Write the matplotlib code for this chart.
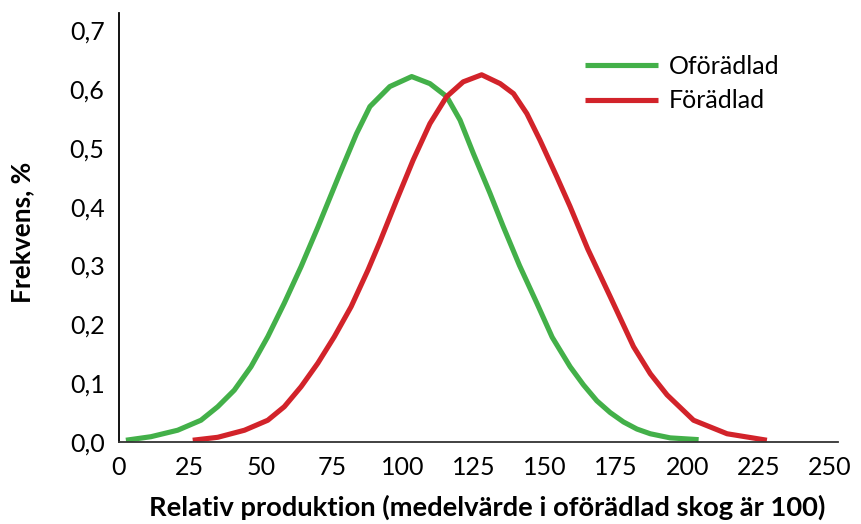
import numpy as np
import matplotlib.pyplot as plt

x_ofor = [2.6, 11.4, 20.8, 29.0, 34.9, 40.7, 46.6, 52.5, 58.3, 64.2, 70.1, 77.8,
          83.7, 88.4, 95.4, 103.1, 109.5, 115.4, 120.1, 124.8, 130.6, 135.3,
          141.0, 147.1, 152.5, 158.8, 163.5, 168.2, 172.9, 177.6, 182.3, 187.0,
          194.0, 204.0]
y_ofor = [0.003, 0.009, 0.020, 0.037, 0.060, 0.088, 0.128, 0.179, 0.236, 0.298,
          0.365, 0.456, 0.524, 0.570, 0.604, 0.621, 0.609, 0.587, 0.547, 0.490,
          0.423, 0.366, 0.300, 0.236, 0.178, 0.128, 0.097, 0.070, 0.050, 0.034,
          0.022, 0.014, 0.007, 0.004]

x_for = [26.1, 34.9, 44.3, 52.5, 58.3, 64.2, 70.1, 75.9, 81.8, 87.7, 91.9, 97.8,
         103.6, 109.5, 115.4, 121.2, 127.7, 134.2, 138.9, 143.6, 148.2, 154.1,
         158.8, 165.0, 172.9, 181.1, 187.0, 192.9, 202.2, 214.0, 228.0]
y_for = [0.003, 0.008, 0.020, 0.037, 0.060, 0.094, 0.134, 0.179, 0.230, 0.292,
         0.340, 0.411, 0.479, 0.541, 0.587, 0.612, 0.624, 0.609, 0.592, 0.558,
         0.513, 0.451, 0.400, 0.328, 0.247, 0.162, 0.116, 0.080, 0.037, 0.014,
         0.003]

xticks = [0, 25, 50, 75, 100, 125, 150, 175, 200, 225, 250]
yticks = [0.0, 0.1, 0.2, 0.3, 0.4, 0.5, 0.6, 0.7]

plt.rcParams['font.family'] = ['Lato', 'DejaVu Sans']

fig = plt.figure(figsize=(8.61, 5.24), dpi=100)
ax = fig.add_axes([118.5 / 861, 82 / 524, 719.5 / 861, 429 / 524])

ax.plot(x_ofor, y_ofor, color='#43b049', lw=3.7, label='Oförädlad',
        solid_capstyle='butt', solid_joinstyle='round')
ax.plot(x_for, y_for, color='#d2232a', lw=3.7, label='Förädlad',
        solid_capstyle='butt', solid_joinstyle='round')

ax.set_xlim(0, 253)
ax.set_ylim(0, 0.729)
ax.set_xticks(xticks)
ax.set_xticklabels([str(t) for t in xticks])
ax.set_yticks(yticks)
ax.set_yticklabels([('%.1f' % t).replace('.', ',') for t in yticks])
ax.tick_params(axis='x', length=0, pad=10, labelsize=18)
ax.tick_params(axis='y', length=0, pad=10, labelsize=18)

for s in ['top', 'right']:
    ax.spines[s].set_visible(False)
ax.spines['left'].set_linewidth(1.3)
ax.spines['bottom'].set_linewidth(1.3)
ax.spines['bottom'].set_color('#333333')

fig.text(487 / 861, 1 - 507 / 524, 'Relativ produktion (medelvärde i oförädlad skog är 100)',
         ha='center', va='center', fontsize=19.7, fontweight='bold')
fig.text(22 / 861, 1 - 232 / 524, 'Frekvens, %', ha='center', va='center',
         rotation=90, fontsize=19, fontweight='bold')

ax.legend(loc='upper left', bbox_to_anchor=(585 / 861, 1 - 55 / 524),
          bbox_transform=fig.transFigure, frameon=False, fontsize=18,
          handlelength=2.9, handletextpad=0.45, labelspacing=0.45, borderpad=0,
          borderaxespad=0)

fig.savefig('out.png', dpi=100)
